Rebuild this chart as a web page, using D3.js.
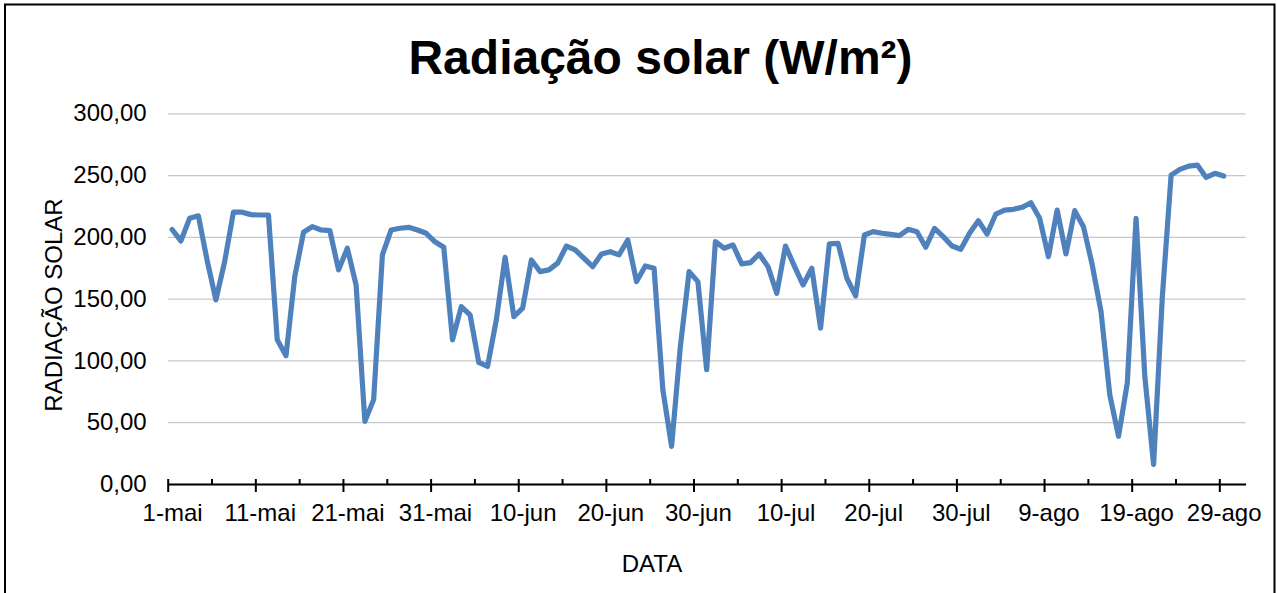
<!DOCTYPE html>
<html>
<head>
<meta charset="utf-8">
<script src="https://cdn.jsdelivr.net/npm/d3@7"></script>
<style>
  body { margin: 0; background: #fff; }
  svg { display: block; font-family: "Liberation Sans", Arial, sans-serif; }
</style>
</head>
<body>
<svg width="1277" height="593"></svg>
<script>
// daily solar radiation, 1-mai to 29-ago
var startDay = "2019-05-01",
    endDay = "2019-09-01";

var radiacao = [
  206, 196.7, 215, 217, 181, 149, 180, 220, 220, 218,
  217.7, 217.7, 116.7, 103.8, 167.9, 203.7, 208.3, 205.6, 205, 173.3,
  190.8, 161, 50.7, 68.3, 185.4, 205.6, 207, 207.7, 205.6, 202.9,
  196, 191.6, 116.7, 143.6, 136.9, 98.4, 95.2, 132.9, 183.5, 135.5,
  142.3, 181.3, 171.9, 173.3, 178.7, 192.6, 189.4, 182.7, 175.9, 186.2,
  188, 185.4, 197.5, 163.8, 176.5, 174.6, 76.3, 30.5, 111.3, 171.9,
  163.8, 92.5, 196.1, 190.8, 193.5, 178.1, 179.2, 186.2, 175.9, 154.4,
  192.6, 176.5, 161.1, 174.6, 126.2, 194.3, 194.8, 166.5, 152.3, 201.5,
  204.2, 202.9, 202, 201, 206.1, 204.2, 191.6, 206.9, 200.2, 192.6,
  190, 202.9, 213.1, 202.3, 218.5, 221.7, 222.3, 223.9, 227.6, 215,
  184, 221.7, 186.2, 221.2, 208.2, 177.3, 139.6, 72.3, 38.6, 81.7,
  215, 87.1, 15.8, 151.7, 250, 254.6, 257.3, 258.1, 248.1, 251.4,
  249.2
];

var xTickLabels = ["1-mai", "11-mai", "21-mai", "31-mai", "10-jun", "20-jun", "30-jun",
                   "10-jul", "20-jul", "30-jul", "9-ago", "19-ago", "29-ago"];
var yTicks = [0, 50, 100, 150, 200, 250, 300];

var svg = d3.select("svg"),
    margin = {top: 113.3, right: 31.4, bottom: 109, left: 167.7},
    width = +svg.attr("width") - margin.left - margin.right,
    height = +svg.attr("height") - margin.top - margin.bottom;

var ptBR = d3.formatLocale({decimal: ",", thousands: ".", grouping: [3], currency: ["R$", ""]});
var fmt = ptBR.format(".2f");

var t0 = new Date(startDay + "T00:00:00Z"),
    t1 = new Date(endDay + "T00:00:00Z");
var days = d3.utcDay.range(t0, d3.utcDay.offset(t0, radiacao.length));
var data = days.map(function(d, i) { return {date: d, value: radiacao[i]}; });

var x = d3.scaleUtc().domain([t0, t1]).range([0, width]);
var y = d3.scaleLinear().domain([0, 300]).range([height, 0]);

// points sit in the middle of each day (between tick marks)
function mid(d) { return d3.utcHour.offset(d, 12); }

// chart frame
svg.append("rect")
    .attr("x", 5).attr("y", 4.5)
    .attr("width", 1269.5).attr("height", 600)
    .attr("fill", "#fff")
    .attr("stroke", "#000")
    .attr("stroke-width", 2);

var g = svg.append("g").attr("transform", "translate(" + margin.left + "," + margin.top + ")");

// gridlines
g.append("g")
    .call(d3.axisLeft(y).tickValues(yTicks).tickSize(-width).tickFormat(""))
    .call(function(s) {
        s.select(".domain").remove();
        s.selectAll(".tick line").attr("stroke", "#c8c8c8").attr("stroke-width", 1.3);
    });

// y labels
g.append("g")
    .call(d3.axisLeft(y).tickValues(yTicks).tickSize(0).tickPadding(21).tickFormat(fmt))
    .call(function(s) {
        s.select(".domain").remove();
        s.selectAll("text").attr("font-size", 24).attr("fill", "#000")
            .attr("font-family", "Liberation Sans, Arial, sans-serif");
    });

// x axis: major ticks every 10 days, minor every 5
var majorDates = d3.utcDay.range(t0, t1, 1).filter(function(d, i) { return i % 10 === 0; });
var minorDates = d3.utcDay.range(t0, t1, 1).filter(function(d, i) { return i % 10 === 5; });

g.append("g")
    .attr("transform", "translate(0," + height + ")")
    .call(d3.axisBottom(x).tickValues(majorDates).tickSizeOuter(0).tickFormat(""))
    .call(function(s) {
        s.select(".domain").attr("stroke", "#000").attr("stroke-width", 2);
        s.selectAll(".tick line").attr("y1", -5).attr("y2", 8).attr("stroke", "#000").attr("stroke-width", 2);
    });

g.append("g")
    .attr("transform", "translate(0," + height + ")")
    .call(d3.axisBottom(x).tickValues(minorDates).tickSizeOuter(0).tickFormat(""))
    .call(function(s) {
        s.select(".domain").remove();
        s.selectAll(".tick line").attr("y1", -5).attr("y2", 0).attr("stroke", "#000").attr("stroke-width", 2);
    });

// x labels centred on the day
g.append("g")
    .attr("transform", "translate(0," + height + ")")
    .call(d3.axisBottom(x).tickValues(majorDates.map(mid)).tickSize(0)
        .tickFormat(function(d, i) { return xTickLabels[i]; }))
    .call(function(s) {
        s.select(".domain").remove();
        s.selectAll("text").attr("y", 37).attr("dy", null)
            .attr("font-size", 24).attr("fill", "#000")
            .attr("font-family", "Liberation Sans, Arial, sans-serif");
    });

// the line
var line = d3.line()
    .x(function(d) { return x(mid(d.date)); })
    .y(function(d) { return y(d.value); });

g.append("path")
    .datum(data)
    .attr("fill", "none")
    .attr("stroke", "#4f81bd")
    .attr("stroke-width", 5.2)
    .attr("stroke-linejoin", "round")
    .attr("stroke-linecap", "round")
    .attr("d", line);

// titles
svg.append("text")
    .attr("x", 660.5).attr("y", 74)
    .attr("text-anchor", "middle")
    .attr("font-size", 48).attr("font-weight", "bold")
    .text("Radiação solar (W/m²)");

svg.append("text")
    .attr("x", 652).attr("y", 572)
    .attr("text-anchor", "middle")
    .attr("font-size", 24)
    .text("DATA");

svg.append("text")
    .attr("transform", "translate(62,305) rotate(-90)")
    .attr("text-anchor", "middle")
    .attr("font-size", 24)
    .text("RADIAÇÃO SOLAR");
</script>
</body>
</html>
